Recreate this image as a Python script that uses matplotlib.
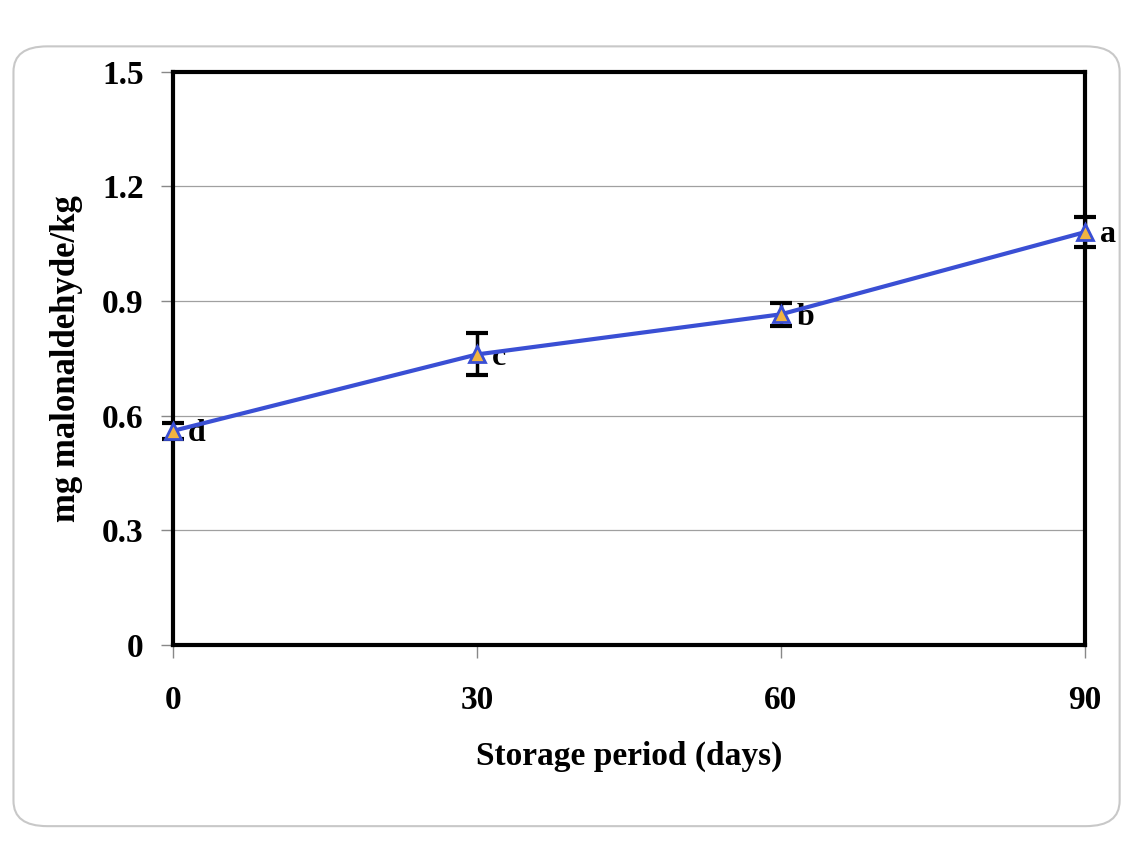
import numpy as np
import matplotlib.pyplot as plt
from matplotlib.patches import FancyBboxPatch

# storage period (days) and TBA values (mg malonaldehyde/kg)
days = [0, 30, 60, 90]
mda = [0.56, 0.76, 0.865, 1.08]
err = [0.02, 0.055, 0.03, 0.04]
letters = ['d', 'c', 'b', 'a']

plt.rcParams['font.family'] = ['Liberation Serif', 'DejaVu Serif']
plt.rcParams['font.weight'] = 'bold'

fig = plt.figure(figsize=(11.23, 8.43), dpi=100)
ax = fig.add_axes([0.154, 0.235, 0.812, 0.680])

# rounded frame round the chart, as in the source document
frame = FancyBboxPatch((0.012, 0.02), 0.985, 0.925, boxstyle='round,pad=0,rounding_size=0.03',
                       transform=fig.transFigure, fill=False, edgecolor='#c8c8c8', linewidth=1.5)
fig.patches.append(frame)

ax.errorbar(days, mda, yerr=err, fmt='none', ecolor='black', elinewidth=2.5,
            capsize=8, capthick=3, zorder=3, clip_on=False)
ax.plot(days, mda, color='#3a4fd4', linewidth=3, marker='^', markersize=11,
        markerfacecolor='#f2b441', markeredgecolor='#3a4fd4', markeredgewidth=2, zorder=4,
        clip_on=False)

for x, y, t in zip(days, mda, letters):
    ax.annotate(t, (x, y), xytext=(11, -2), textcoords='offset points',
                fontsize=23, fontweight='bold', va='center', ha='left')

ax.set_xlim(0, 90)
ax.set_ylim(0, 1.5)
ax.set_xticks(days)
ax.set_yticks([0, 0.3, 0.6, 0.9, 1.2, 1.5])
ax.set_yticklabels(['0', '0.3', '0.6', '0.9', '1.2', '1.5'])

ax.yaxis.grid(True, color='#a0a0a0', linewidth=0.9)
ax.set_axisbelow(True)
for s in ax.spines.values():
    s.set_linewidth(3)
    s.set_color('black')

ax.tick_params(axis='both', direction='out', length=9, width=1, color='#888888',
               labelsize=24)
ax.tick_params(axis='x', pad=20)
ax.tick_params(axis='y', pad=12)

ax.set_xlabel('Storage period (days)', fontsize=24, fontweight='bold', labelpad=18)
ax.set_ylabel('mg malonaldehyde/kg', fontsize=25, fontweight='bold', labelpad=14)

plt.savefig('out.png', dpi=100)
